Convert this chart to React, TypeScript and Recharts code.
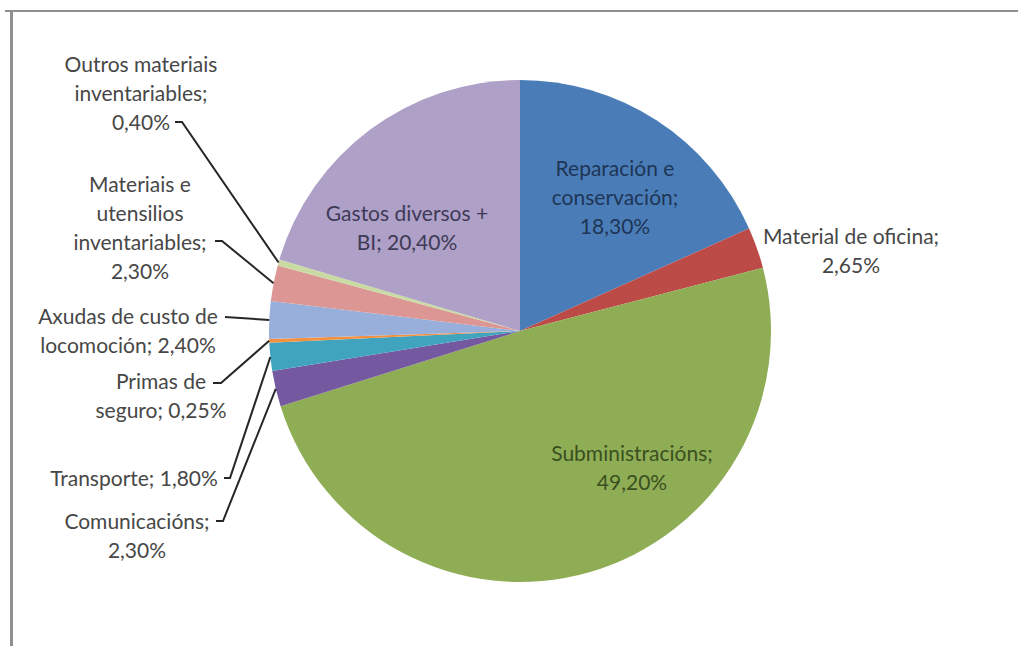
import React from "react";
import { PieChart, Pie, Cell } from "recharts";

const categories = [
  "Reparación e conservación",
  "Material de oficina",
  "Subministracións",
  "Comunicacións",
  "Transporte",
  "Primas de seguro",
  "Axudas de custo de locomoción",
  "Materiais e utensilios inventariables",
  "Outros materiais inventariables",
  "Gastos diversos + BI",
];
const values = [18.3, 2.65, 49.2, 2.3, 1.8, 0.25, 2.4, 2.3, 0.4, 20.4];
const valueLabels = ["18,30%", "2,65%", "49,20%", "2,30%", "1,80%", "0,25%", "2,40%", "2,30%", "0,40%", "20,40%"];
const labelLines = [
  ["Reparación e", "conservación;", "18,30%"],
  ["Material de oficina;", "2,65%"],
  ["Subministracións;", "49,20%"],
  ["Comunicacións;", "2,30%"],
  ["Transporte; 1,80%"],
  ["Primas de", "seguro; 0,25%"],
  ["Axudas de custo de", "locomoción; 2,40%"],
  ["Materiais e", "utensilios", "inventariables;", "2,30%"],
  ["Outros materiais", "inventariables;", "0,40%"],
  ["Gastos diversos +", "BI; 20,40%"],
];

const colors = ["#4A7DB8", "#BC4B47", "#8FAD55", "#7559A0", "#41A4BF", "#F3913F", "#98AEDB", "#DC9795", "#C9DBA3", "#AEA0C6"];
const textColors = ["#1E3556", "#474747", "#3A5020", "#474747", "#474747", "#474747", "#474747", "#474747", "#474747", "#3E3A58"];

// label layout: text center offset from pie center (dx, first line dy), leader start offset (lx, ly, dash), or null
const labelLayout = [
  { dx: 95, dy: -164, leader: null },
  { dx: 331, dy: -96, leader: null },
  { dx: 112, dy: 121, leader: null },
  { dx: -383, dy: 189, leader: [-304, 190, 7] },
  { dx: -386, dy: 146, leader: [-296, 147, 6] },
  { dx: -359, dy: 49, leader: [-307, 52, 8] },
  { dx: -392, dy: -16, leader: [-295, -14, 0] },
  { dx: -380, dy: -148, leader: [-305, -90, 7] },
  { dx: -379, dy: -268, leader: [-345, -209, 7] },
  { dx: -113, dy: -119, leader: null },
];

const data = categories.map((name, i) => ({ name, value: values[i], label: valueLabels[i] }));

const RAD = Math.PI / 180;
const LINE_H = 29;

const renderLabel = (props: any) => {
  const { cx, cy, midAngle, outerRadius, index } = props;
  const lay = labelLayout[index];
  const lines = labelLines[index];
  const tx = cx + lay.dx;
  const ty = cy + lay.dy;
  let leader = null;
  if (lay.leader) {
    const px = cx + outerRadius * Math.cos(-midAngle * RAD);
    const py = cy + outerRadius * Math.sin(-midAngle * RAD);
    const sx = cx + lay.leader[0];
    const sy = cy + lay.leader[1];
    leader = (
      <path
        d={`M${sx},${sy} L${sx + lay.leader[2]},${sy} L${px},${py}`}
        fill="none"
        stroke="#262626"
        strokeWidth={2}
      />
    );
  }
  return (
    <g key={`lbl-${index}`}>
      {leader}
      <text
        x={tx}
        y={ty}
        textAnchor="middle"
        fill={textColors[index]}
        fontFamily="Lato, 'Open Sans', sans-serif"
        fontSize={21}
      >
        {lines.map((l, k) => (
          <tspan key={k} x={tx} y={ty + k * LINE_H} dominantBaseline="central">
            {l}
          </tspan>
        ))}
      </text>
    </g>
  );
};

export default function App() {
  return (
    <div style={{ position: "fixed", left: 0, top: 0, width: 1018, height: 646, background: "#fff" }}>
      <div style={{ position: "absolute", left: 5, top: 10, width: 1013, height: 2, background: "#8f8f8f" }} />
      <div style={{ position: "absolute", left: 10, top: 10, width: 3, height: 636, background: "#8f8f8f" }} />
      <div style={{ position: "absolute", left: 0, top: 0 }}>
        <PieChart width={1018} height={646} margin={{ top: 0, right: 0, bottom: 0, left: 0 }}>
          <Pie
            data={data}
            dataKey="value"
            nameKey="name"
            cx={520}
            cy={331}
            outerRadius={251}
            startAngle={90}
            endAngle={-270}
            stroke="none"
            isAnimationActive={false}
            labelLine={false}
            label={renderLabel}
          >
            {data.map((d, i) => (
              <Cell key={d.name} fill={colors[i]} />
            ))}
          </Pie>
        </PieChart>
      </div>
    </div>
  );
}
